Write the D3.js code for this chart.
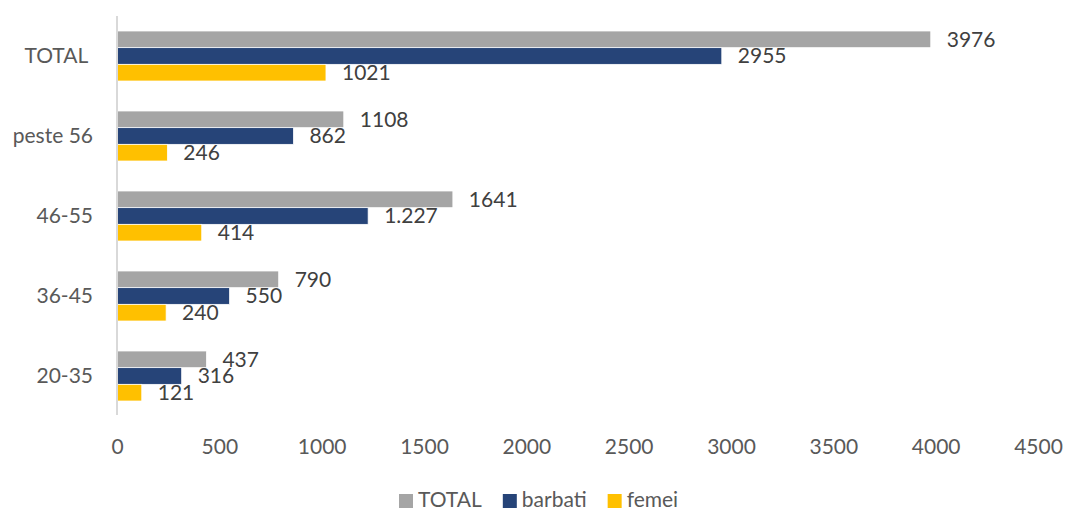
<!DOCTYPE html>
<html>
<head>
<meta charset="utf-8">
<script src="https://cdn.jsdelivr.net/npm/d3@7"></script>
<style>
  body { margin: 0; background: #fff; }
  text { font-family: Lato, "Open Sans", sans-serif; }
</style>
</head>
<body>
<svg id="chart" width="1067" height="512"></svg>
<script>
// Categories, top to bottom
var categories = ["TOTAL ", "peste 56", "46-55", "36-45", "20-35"];
var seriesNames = ["TOTAL", "barbati", "femei"];
var totalValues = [3976, 1108, 1641, 790, 437];
var barbatiValues = [2955, 862, 1227, 550, 316];
var femeiValues = [1021, 246, 414, 240, 121];
var barbatiText = ["2955", "862", "1.227", "550", "316"];
var xTicks = [0, 500, 1000, 1500, 2000, 2500, 3000, 3500, 4000, 4500];
var colors = ["#a5a5a5", "#264478", "#ffc000"];

var chart = {};
chart.ready = function() {
    const left = 117, right = 1038, top = 16, bottom = 416;

    var rows = [];
    categories.forEach(function(c, i) {
        rows.push({ cat: c, series: "TOTAL", value: totalValues[i], text: String(totalValues[i]) });
        rows.push({ cat: c, series: "barbati", value: barbatiValues[i], text: barbatiText[i] });
        rows.push({ cat: c, series: "femei", value: femeiValues[i], text: String(femeiValues[i]) });
    });

    var xScale = d3.scaleLinear().domain([0, 4500]).range([left, right]);
    var yScale = d3.scaleBand()
        .domain(categories)
        .range([top, bottom])
        .paddingInner(0.375)
        .paddingOuter(0.1875);
    var ySub = d3.scaleBand()
        .domain(seriesNames)
        .range([0, yScale.bandwidth()]);
    var color = d3.scaleOrdinal().domain(seriesNames).range(colors);

    var svg = d3.select("#chart");

    // bars
    svg.append("g").selectAll("rect")
        .data(rows)
        .enter().append("rect")
        .attr("x", xScale(0))
        .attr("y", function(d) { return yScale(d.cat) + ySub(d.series); })
        .attr("width", function(d) { return xScale(d.value) - xScale(0); })
        .attr("height", ySub.bandwidth())
        .attr("fill", function(d) { return color(d.series); })
        .attr("stroke", "#fff")
        .attr("stroke-width", 0.75);

    // value labels
    svg.append("g").selectAll("text")
        .data(rows)
        .enter().append("text")
        .attr("x", function(d) { return xScale(d.value) + 16; })
        .attr("y", function(d) { return yScale(d.cat) + ySub(d.series) + ySub.bandwidth() / 2 + 2; })
        .attr("dominant-baseline", "middle")
        .attr("font-size", 21)
        .attr("fill", "#404040")
        .text(function(d) { return d.text; });

    // y axis
    var yAxis = svg.append("g")
        .attr("transform", "translate(" + left + ",0)")
        .call(d3.axisLeft(yScale).tickSize(0).tickPadding(24));
    yAxis.select(".domain").attr("stroke", "#d9d9d9").attr("stroke-width", 2)
        .attr("d", "M0," + top + "V" + (bottom - 1));
    yAxis.selectAll("text")
        .attr("font-size", 21)
        .attr("fill", "#595959")
        .style("white-space", "pre")
        .style("font-family", "Lato, 'Open Sans', sans-serif");

    // x axis
    var xAxis = svg.append("g")
        .attr("transform", "translate(0," + 433 + ")")
        .call(d3.axisBottom(xScale).tickValues(xTicks).tickFormat(d3.format("d")).tickSize(0).tickPadding(6));
    xAxis.select(".domain").remove();
    xAxis.selectAll("text")
        .attr("font-size", 21)
        .attr("fill", "#595959")
        .style("font-family", "Lato, 'Open Sans', sans-serif");

    // legend
    var lx = 399;
    seriesNames.forEach(function(s) {
        svg.append("rect")
            .attr("x", lx).attr("y", 494)
            .attr("width", 14).attr("height", 14)
            .attr("fill", color(s));
        var t = svg.append("text")
            .attr("x", lx + 19).attr("y", 502)
            .attr("dominant-baseline", "middle")
            .attr("font-size", 21)
            .attr("fill", "#595959")
            .text(s);
        lx += 19 + t.node().getComputedTextLength() + 21;
    });
}
chart.ready();
</script>
</body>
</html>
